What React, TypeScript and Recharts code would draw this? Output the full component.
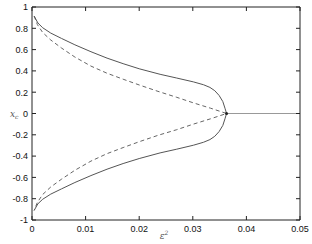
import React from 'react';
import { LineChart, Line, XAxis, YAxis, ReferenceArea, ReferenceDot } from 'recharts';

const xTicks = [0, 0.01, 0.02, 0.03, 0.04, 0.05];
const yTicks = [-1, -0.8, -0.6, -0.4, -0.2, 0, 0.2, 0.4, 0.6, 0.8, 1];

// solid branch, upper half (from epsilon^2 = 0 towards the turning point)
const solidUpperX = [0.0004, 0.0011, 0.002, 0.0035, 0.0055, 0.008, 0.011, 0.014, 0.017, 0.02, 0.0239, 0.027, 0.0301, 0.032, 0.0332, 0.0341, 0.0349, 0.0356, 0.036, 0.0363];
const solidUpperY = [0.915, 0.85, 0.805, 0.755, 0.705, 0.645, 0.58, 0.52, 0.468, 0.42, 0.368, 0.333, 0.297, 0.27, 0.245, 0.214, 0.17, 0.112, 0.05, 0.0];
// solid branch, lower half (from the turning point back to epsilon^2 = 0)
const solidLowerX = [0.0363, 0.036, 0.0356, 0.0349, 0.0341, 0.0332, 0.032, 0.0301, 0.027, 0.0239, 0.02, 0.017, 0.014, 0.011, 0.008, 0.0055, 0.0035, 0.002, 0.0011, 0.0004];
const solidLowerY = [0.0, -0.05, -0.112, -0.17, -0.214, -0.245, -0.27, -0.298, -0.335, -0.37, -0.423, -0.47, -0.523, -0.583, -0.648, -0.708, -0.757, -0.805, -0.848, -0.91];

// dashed branch
const dashUpperX = [0.0004, 0.001, 0.002, 0.0035, 0.0055, 0.008, 0.011, 0.014, 0.017, 0.02, 0.0235, 0.027, 0.0301, 0.0333, 0.0363];
const dashUpperY = [0.915, 0.835, 0.76, 0.69, 0.615, 0.53, 0.445, 0.378, 0.322, 0.268, 0.208, 0.152, 0.1, 0.05, 0.0];
const dashLowerX = [0.0363, 0.0333, 0.0301, 0.027, 0.0235, 0.02, 0.017, 0.014, 0.011, 0.008, 0.0055, 0.0035, 0.002, 0.001, 0.0004];
const dashLowerY = [0.0, -0.05, -0.1, -0.152, -0.205, -0.265, -0.32, -0.377, -0.447, -0.533, -0.617, -0.69, -0.76, -0.835, -0.91];

// trivial branch
const flatX = [0.0363, 0.05];
const flatY = [0, 0];

const toPts = (xs: number[], ys: number[]) => xs.map((x, i) => ({ x, y: ys[i] }));
const solidData = [...toPts(solidUpperX, solidUpperY), ...toPts(solidLowerX, solidLowerY)];
const dashData = [...toPts(dashUpperX, dashUpperY), ...toPts(dashLowerX, dashLowerY)];
const flatData = toPts(flatX, flatY);

const PLOT = { left: 32, right: 300, top: 7, bottom: 220 };
const FONT = '"Liberation Sans", Arial, sans-serif';
const TL = 4;

const fmt = (v: number) => String(v);

const XTick = (props: any) => {
  const c = props.payload.coordinate;
  return (
    <g>
      <line x1={c} x2={c} y1={PLOT.bottom} y2={PLOT.bottom - TL} stroke="#222" strokeWidth={1} />
      <line x1={c} x2={c} y1={PLOT.top} y2={PLOT.top + TL} stroke="#222" strokeWidth={1} />
      <text x={c} y={PLOT.bottom + 12} textAnchor="middle" fontSize={9} fontFamily={FONT} fill="#111">
        {fmt(props.payload.value)}
      </text>
    </g>
  );
};

const YTick = (props: any) => {
  const c = props.payload.coordinate;
  return (
    <g>
      <line x1={PLOT.left} x2={PLOT.left + TL} y1={c} y2={c} stroke="#222" strokeWidth={1} />
      <line x1={PLOT.right} x2={PLOT.right - TL} y1={c} y2={c} stroke="#222" strokeWidth={1} />
      <text x={PLOT.left - 4} y={c + 3.3} textAnchor="end" fontSize={9} fontFamily={FONT} fill="#111">
        {fmt(props.payload.value)}
      </text>
    </g>
  );
};

export default function App() {
  return (
    <div style={{ position: 'absolute', left: 0, top: 0, background: '#fff' }}>
      <LineChart
        width={312}
        height={244}
        margin={{ top: PLOT.top, right: 312 - PLOT.right, left: 0, bottom: 0 }}
      >
        <XAxis
          dataKey="x"
          type="number"
          domain={[0, 0.05]}
          ticks={xTicks}
          allowDataOverflow
          height={244 - PLOT.bottom}
          axisLine={false}
          tickLine={false}
          tick={<XTick />}
          interval={0}
          label={{
            content: () => (
              <text x={164} y={239} textAnchor="middle" fontFamily="'DejaVu Serif', serif" fontStyle="italic" fontSize={9} fill="#555">
                ε<tspan dy={-4} fontSize={6}>2</tspan>
              </text>
            ),
          }}
        />
        <YAxis
          dataKey="y"
          type="number"
          domain={[-1, 1]}
          ticks={yTicks}
          allowDataOverflow
          width={PLOT.left}
          axisLine={false}
          tickLine={false}
          tick={<YTick />}
          interval={0}
          label={{
            content: () => (
              <text x={10} y={117} fontFamily="'DejaVu Serif', serif" fontStyle="italic" fontSize={9} fill="#555">
                x<tspan dy={2} fontSize={6}>c</tspan>
              </text>
            ),
          }}
        />
        <ReferenceArea x1={0} x2={0.05} y1={-1} y2={1} fill="none" stroke="#222" strokeWidth={1} ifOverflow="visible" />
        <Line data={flatData} dataKey="y" type="linear" stroke="#999" strokeWidth={1} dot={false} isAnimationActive={false} />
        <Line data={dashData} dataKey="y" type="linear" stroke="#666" strokeWidth={1} strokeDasharray="4 3" dot={false} isAnimationActive={false} />
        <Line data={solidData} dataKey="y" type="linear" stroke="#555" strokeWidth={1} dot={false} isAnimationActive={false} />
        <ReferenceDot x={0.0363} y={0} r={1.5} fill="#222" stroke="none" />
      </LineChart>
    </div>
  );
}
